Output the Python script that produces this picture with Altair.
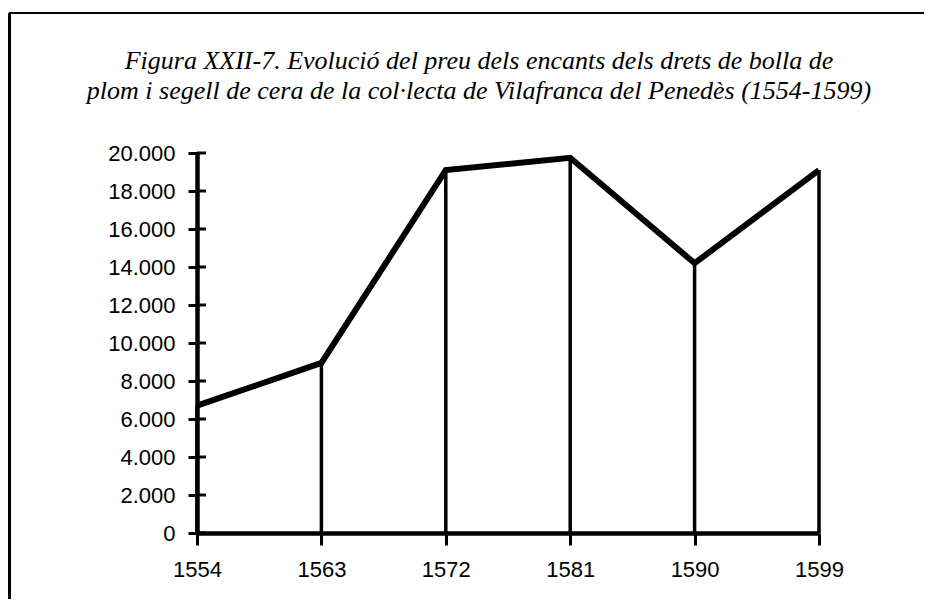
import altair as alt
import pandas as pd

years = ["1554", "1563", "1572", "1581", "1590", "1599"]
values = [6700, 8950, 19100, 19750, 14200, 19100]
y_ticks = [0, 2000, 4000, 6000, 8000, 10000, 12000, 14000, 16000, 18000, 20000]
title_lines = [
    "Figura XXII-7. Evolució del preu dels encants dels drets de bolla de",
    "plom i segell de cera de la col·lecta de Vilafranca del Penedès (1554-1599)",
]

df = pd.DataFrame({"year": years, "value": values})
ticks_df = pd.DataFrame({"t": y_ticks})

W, H = 622, 380
PAD_L, PAD_T, PAD_R, PAD_B = 189, 145, 105, 66

xaxis = alt.Axis(title=None, labelAngle=0, tickSize=12, labelPadding=14,
                 domainWidth=4.5, tickWidth=3)
yaxis = alt.Axis(title=None, values=y_ticks, tickSize=9, labelPadding=13,
                 domainWidth=4.5, tickWidth=3, labelOverlap=False,
                 labelBound=False,
                 labelExpr="replace(format(datum.value, ','), ',', '.')")
xscale = alt.Scale(type="point", padding=0)
yscale = alt.Scale(domain=[0, 20000], nice=False)

drops = alt.Chart(df).mark_rule(color="black", strokeWidth=3.5).encode(
    x=alt.X("year:O", sort=years, scale=xscale, axis=xaxis),
    y=alt.Y("value:Q", scale=yscale, axis=yaxis),
    y2=alt.datum(0),
)

line = alt.Chart(df).mark_line(color="black", strokeWidth=6, strokeJoin="miter",
                               strokeCap="butt").encode(
    x=alt.X("year:O", sort=years, scale=xscale, axis=xaxis),
    y=alt.Y("value:Q", scale=yscale, axis=yaxis),
)

inner_ticks = alt.Chart(ticks_df).mark_rule(color="black", strokeWidth=3).encode(
    y=alt.Y("t:Q", scale=yscale, axis=yaxis),
    x=alt.value(0),
    x2=alt.value(9),
)

frame_top = alt.Chart(df).mark_rule(color="black", strokeWidth=2).encode(
    x=alt.value(-PAD_L + 1.5), x2=alt.value(W + PAD_R), y=alt.value(-140)
)
frame_left = alt.Chart(df).mark_rule(color="black", strokeWidth=2).encode(
    x=alt.value(-PAD_L + 1.5), y=alt.value(-140), y2=alt.value(H + PAD_B)
)

chart = alt.layer(drops, line, inner_ticks, frame_top, frame_left).properties(
    width=W,
    height=H,
    autosize=alt.AutoSizeParams(type="none"),
    padding={"left": PAD_L, "top": PAD_T, "right": PAD_R, "bottom": PAD_B},
    title=alt.TitleParams(
        text=title_lines,
        font="Liberation Serif",
        fontStyle="italic",
        fontWeight="normal",
        fontSize=26,
        lineHeight=30,
        color="black",
        anchor="middle",
        frame="group",
        baseline="alphabetic",
        dx=-29,
        offset=0,
        dy=113,
    ),
).configure_view(stroke=None).configure_axis(
    grid=False,
    domainColor="black",
    tickColor="black",
    labelColor="black",
    labelFont="Liberation Sans",
    labelFontSize=22,
    labelOverlap=False,
)

chart.save("out.html", embed_options={"renderer": "svg", "actions": False})
